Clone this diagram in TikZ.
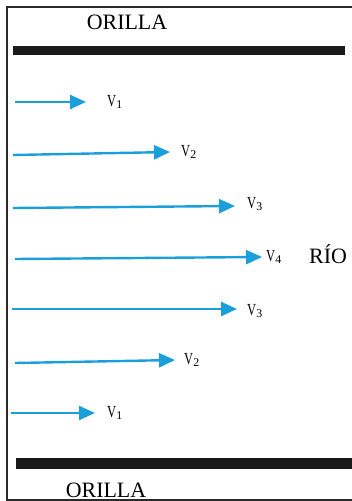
\documentclass[tikz,border=0pt]{standalone}
\usepackage{fontspec}
\setmainfont{Liberation Serif}
\usetikzlibrary{arrows.meta,positioning}
\definecolor{river}{HTML}{1B9FDA}
\definecolor{bank}{HTML}{1A1A1A}
\definecolor{edge}{HTML}{2A2A2A}
\newcommand{\velo}[1]{\scalebox{0.74}[1]{V}\textsubscript{#1}}
\tikzset{
  flow/.style={-{Triangle[length=16bp, width=14bp]}, draw=river, line width=2.4bp},
  vel/.style={inner sep=0pt, font=\fontsize{17}{19}\selectfont},
  banktxt/.style={inner sep=0pt, anchor=base, font=\fontsize{22}{24}\selectfont}
}
\begin{document}
\begin{tikzpicture}[x=1bp, y=-1bp]
 \useasboundingbox (0,0) rectangle (351,501);
 \draw[draw=edge, line width=1.6bp] (352,7) -- (7,7) -- (7,500) -- (352,500);
 % river banks
 \fill[bank] (13,46) rectangle (345,55);
 \fill[bank] (16,458) rectangle (352,469);
 \node[banktxt] (top) at (127,30) {ORILLA};
 \node[banktxt] (bot) at (106,497) {ORILLA};
 \node[banktxt] (rio) at (328,263) {RÍO};
 % velocity profile
 \coordinate (s1) at (15,102); \coordinate (t1) at (86,102);
 \coordinate (s2) at (13,155); \coordinate (t2) at (170,152);
 \coordinate (s3) at (13,208); \coordinate (t3) at (235,206);
 \coordinate (s4) at (15,259); \coordinate (t4) at (262,257);
 \coordinate (s5) at (12,309); \coordinate (t5) at (237,309);
 \coordinate (s6) at (15,363); \coordinate (t6) at (175,360);
 \coordinate (s7) at (11,413); \coordinate (t7) at (95,413);
 \node[vel, right=21bp of t1] (v1) {\velo{1}};
 \node[vel, right=11bp of t2] (v2) {\velo{2}};
 \node[vel, right=12bp of t3, yshift=2bp] (v3) {\velo{3}};
 \node[vel, right=4bp of t4] (v4) {\velo{4}};
 \node[vel, right=10bp of t5, yshift=-2bp] (v5) {\velo{3}};
 \node[vel, right=9bp of t6] (v6) {\velo{2}};
 \node[vel, right=12bp of t7] (v7) {\velo{1}};
 \draw[flow] (s1) -- (t1); \draw[flow] (s2) -- (t2); \draw[flow] (s3) -- (t3);
 \draw[flow] (s4) -- (t4); \draw[flow] (s5) -- (t5); \draw[flow] (s6) -- (t6);
 \draw[flow] (s7) -- (t7);
\end{tikzpicture}
\end{document}
